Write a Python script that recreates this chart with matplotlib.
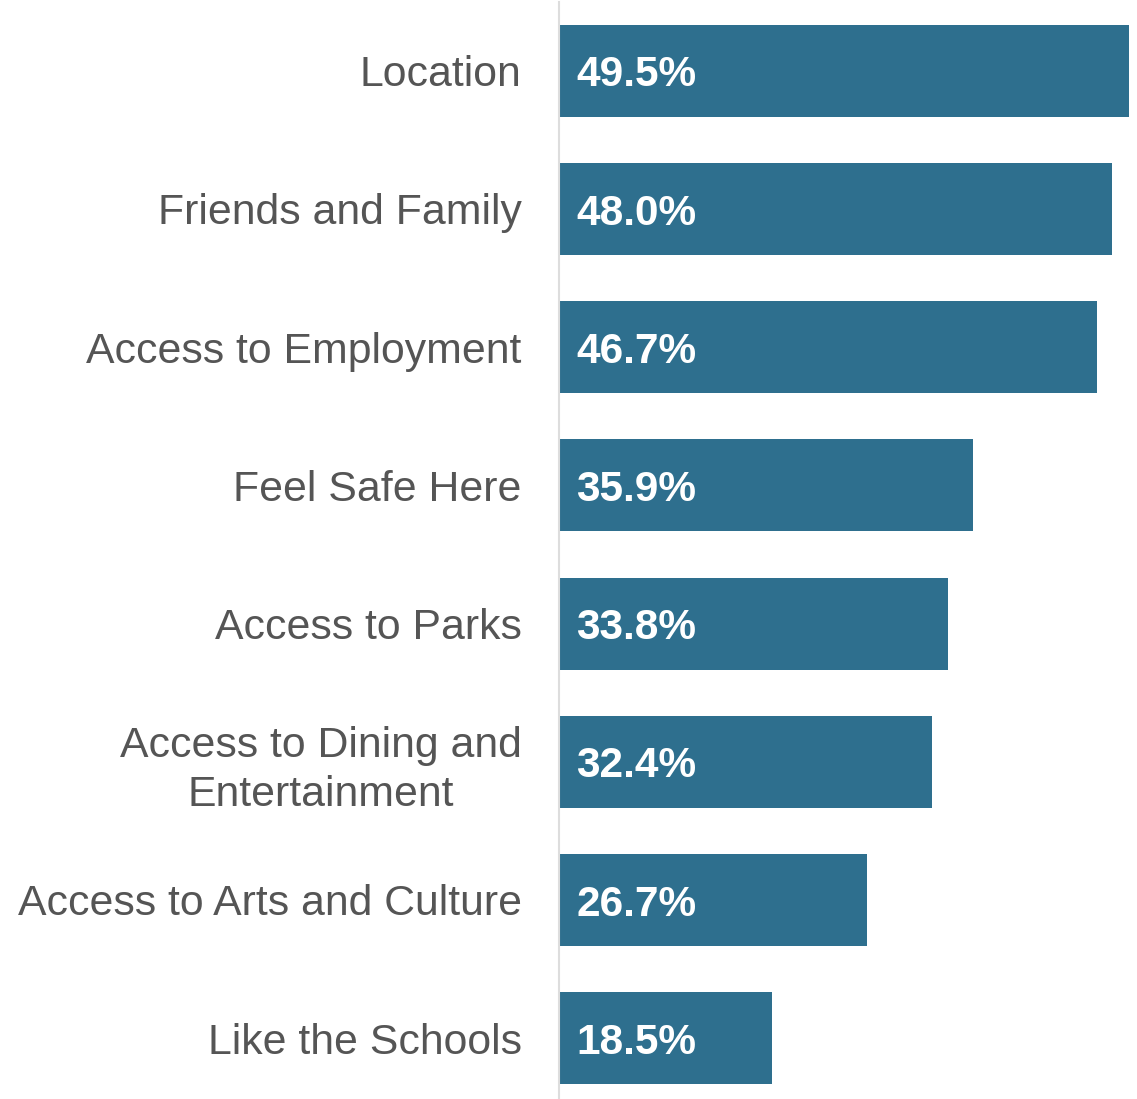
import matplotlib
matplotlib.use("Agg")
import matplotlib.pyplot as plt

categories = ["Location", "Friends and Family", "Access to Employment", "Feel Safe Here",
              "Access to Parks", "Access to Dining and\nEntertainment",
              "Access to Arts and Culture", "Like the Schools"]
values = [49.5, 48.0, 46.7, 35.9, 33.8, 32.4, 26.7, 18.5]

BAR_COLOR = "#2e6f8e"
TEXT_COLOR = "#555555"

plt.rcParams["font.family"] = ["Liberation Sans", "DejaVu Sans"]

fig = plt.figure(figsize=(11.37, 10.99), dpi=100)
ax = fig.add_axes([559 / 1137, 0, 576 / 1137, 1097.3 / 1099])

pos = list(range(len(categories)))
ax.barh(pos, values, height=0.666, color=BAR_COLOR)

# value labels, baseline set a bit below bar centre so caps sit centred
for p, v in zip(pos, values):
    ax.annotate(f"{v:.1f}%", xy=(1.5, p), xytext=(0, -11.3), textcoords="offset points",
                color="white", fontsize=30.5, fontweight="bold", va="baseline", ha="left")

ax.set_xlim(0, 50)
ax.set_ylim(7.44, -0.5)
ax.set_yticks(pos)
ax.set_yticklabels(categories, fontsize=30.75, color=TEXT_COLOR,
                   multialignment="center", linespacing=1.28)
ax.tick_params(axis="y", length=0, pad=27)
ax.set_xticks([])

for side in ["top", "right", "bottom"]:
    ax.spines[side].set_visible(False)
ax.spines["left"].set_color("#dddddd")
ax.spines["left"].set_linewidth(1.5)

fig.savefig("out.png", dpi=100)
